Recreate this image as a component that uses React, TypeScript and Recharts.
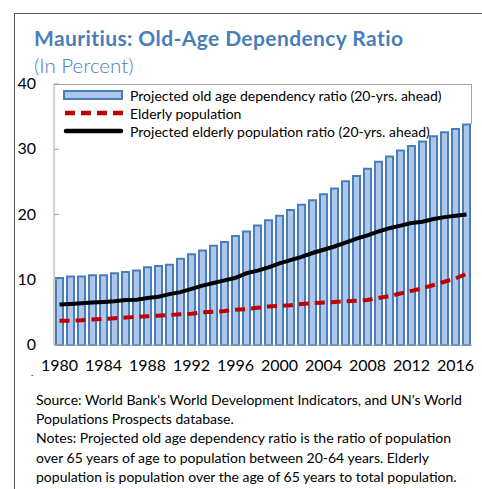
import React from 'react';
import { ComposedChart, Bar, Line, XAxis, YAxis } from 'recharts';

const years = [
    '1980', '1981', '1982', '1983', '1984', '1985', '1986', '1987', '1988', '1989',
    '1990', '1991', '1992', '1993', '1994', '1995', '1996', '1997', '1998', '1999',
    '2000', '2001', '2002', '2003', '2004', '2005', '2006', '2007', '2008', '2009',
    '2010', '2011', '2012', '2013', '2014', '2015', '2016', '2017',
];

// Projected old age dependency ratio (20-yrs. ahead)
const projectedDependency = [
    10.25, 10.5, 10.5, 10.7, 10.7, 11.0, 11.2, 11.4, 11.9, 12.1,
    12.3, 13.2, 13.9, 14.5, 15.2, 15.8, 16.7, 17.4, 18.3, 19.1,
    19.8, 20.7, 21.5, 22.2, 23.1, 24.0, 25.1, 25.9, 27.0, 28.1,
    28.9, 29.8, 30.5, 31.2, 32.0, 32.6, 33.1, 33.8,
];

// Elderly population
const elderly = [
    3.7, 3.7, 3.8, 3.9, 4.0, 4.1, 4.2, 4.3, 4.4, 4.5,
    4.6, 4.7, 4.8, 5.0, 5.1, 5.2, 5.4, 5.5, 5.7, 5.9,
    6.0, 6.1, 6.3, 6.4, 6.5, 6.6, 6.7, 6.8, 6.9, 7.2,
    7.5, 7.9, 8.3, 8.7, 9.2, 9.7, 10.2, 10.9,
];

// Projected elderly population ratio (20-yrs. ahead)
const projectedElderly = [
    6.2, 6.3, 6.4, 6.5, 6.6, 6.7, 6.9, 6.95, 7.2, 7.4,
    7.8, 8.1, 8.6, 9.1, 9.5, 9.9, 10.3, 11.0, 11.4, 11.9,
    12.5, 13.0, 13.5, 14.1, 14.6, 15.1, 15.7, 16.3, 16.8, 17.4,
    17.9, 18.3, 18.7, 18.9, 19.3, 19.6, 19.8, 20.0,
];

const yTicks = [0, 10, 20, 30, 40];

const legendLabels = [
    'Projected old age dependency ratio (20-yrs. ahead)',
    'Elderly population',
    'Projected elderly population ratio (20-yrs. ahead)',
];

const notes = [
    "Source: World Bank's World Development Indicators, and UN's World",
    'Populations Prospects database.',
    'Notes: Projected old age dependency ratio is the ratio of population',
    'over 65 years of age to population between 20-64 years. Elderly',
    'population is population over the age of 65 years to total population.',
];

const FONT = 'Lato, "Open Sans", sans-serif';
const BLUE = '#4A7EBB';
const BAR_FILL = '#ADC6EA';
const RED = '#C00000';
const AXIS_GREY = '#A6A6A6';

const chartData = years.map((year, i) => ({
    year,
    projectedDependency: projectedDependency[i],
    elderly: elderly[i],
    projectedElderly: projectedElderly[i],
}));

const YTick = ({ x, y, payload }: any) => (
    <g>
        <line x1={54} x2={59} y1={y} y2={y} stroke={AXIS_GREY} strokeWidth={1} />
        <text x={x} y={y} dy={5} textAnchor="end" fontSize={16} fill="#000" fontFamily={FONT}>
            {payload.value}
        </text>
    </g>
);

const LegendBox = () => (
    <div
        style={{
            position: 'absolute',
            left: 54,
            top: 84,
            width: 418,
            height: 40,
            borderTop: `1px solid ${AXIS_GREY}`,
            borderRight: `1px solid ${AXIS_GREY}`,
            fontFamily: FONT,
            fontSize: 14,
            color: '#000',
            boxSizing: 'border-box',
        }}
    >
        {legendLabels.map((label, i) => (
            <div key={label} style={{ position: 'absolute', left: 9, top: 1 + i * 18, height: 18, display: 'flex', alignItems: 'center', whiteSpace: 'nowrap' }}>
                <svg width={62} height={12} style={{ marginRight: 5 }}>
                    {i === 0 && <rect x={1} y={2} width={58} height={8} fill={BAR_FILL} stroke={BLUE} strokeWidth={2} />}
                    {i === 1 && <line x1={2} x2={60} y1={6} y2={6} stroke={RED} strokeWidth={4.5} strokeDasharray="10 6" />}
                    {i === 2 && <line x1={3} x2={58} y1={6} y2={6} stroke="#000" strokeWidth={4.5} strokeLinecap="round" />}
                </svg>
                <span>{label}</span>
            </div>
        ))}
    </div>
);

const App: React.FC = () => (
    <div style={{ position: 'absolute', left: 0, top: 0, width: 482, height: 489, background: '#fff', overflow: 'hidden' }}>
        {/* outer frame */}
        <div style={{ position: 'absolute', left: 14, top: 13, width: 480, height: 480, borderLeft: '1px solid #555', borderTop: '1px solid #555' }} />
        <div style={{ position: 'absolute', left: 34, top: 25, fontFamily: FONT, fontWeight: 700, fontSize: 21, letterSpacing: 0.4, color: BLUE, whiteSpace: 'nowrap' }}>
            Mauritius: Old-Age Dependency Ratio
        </div>
        <div style={{ position: 'absolute', left: 34, top: 53, fontFamily: FONT, fontWeight: 300, fontSize: 20.5, color: BLUE, whiteSpace: 'nowrap' }}>
            (In Percent)
        </div>
        <div style={{ position: 'absolute', left: 0, top: 0 }}>
            <ComposedChart
                width={482}
                height={489}
                data={chartData}
                margin={{ top: 84, right: 10, bottom: 114, left: 0 }}
                barCategoryGap={0}
            >
                <XAxis
                    dataKey="year"
                    height={30}
                    interval={3}
                    tickLine={false}
                    tickSize={0}
                    tickMargin={15}
                    axisLine={{ stroke: AXIS_GREY }}
                    tick={{ fontSize: 16, fill: '#000', fontFamily: FONT }}
                />
                <YAxis
                    width={54}
                    domain={[0, 40]}
                    ticks={yTicks}
                    tickLine={false}
                    tickSize={0}
                    tickMargin={18}
                    axisLine={{ stroke: AXIS_GREY }}
                    tick={<YTick />}
                />
                <Bar dataKey="projectedDependency" barSize={7} fill={BAR_FILL} stroke={BLUE} strokeWidth={2} isAnimationActive={false} />
                <Line dataKey="elderly" type="linear" stroke={RED} strokeWidth={4} strokeDasharray="10 6" dot={false} isAnimationActive={false} />
                <Line dataKey="projectedElderly" type="linear" stroke="#000" strokeWidth={4} dot={false} isAnimationActive={false} />
            </ComposedChart>
        </div>
        <LegendBox />
        <div style={{ position: 'absolute', left: 31, top: 366, fontSize: 10, fontFamily: FONT }}>.</div>
        <div style={{ position: 'absolute', left: 36, top: 390, fontFamily: FONT, fontSize: 14, lineHeight: '19.2px', color: '#000', whiteSpace: 'nowrap' }}>
            {notes.map(n => (
                <div key={n}>{n}</div>
            ))}
        </div>
    </div>
);

export default App;
